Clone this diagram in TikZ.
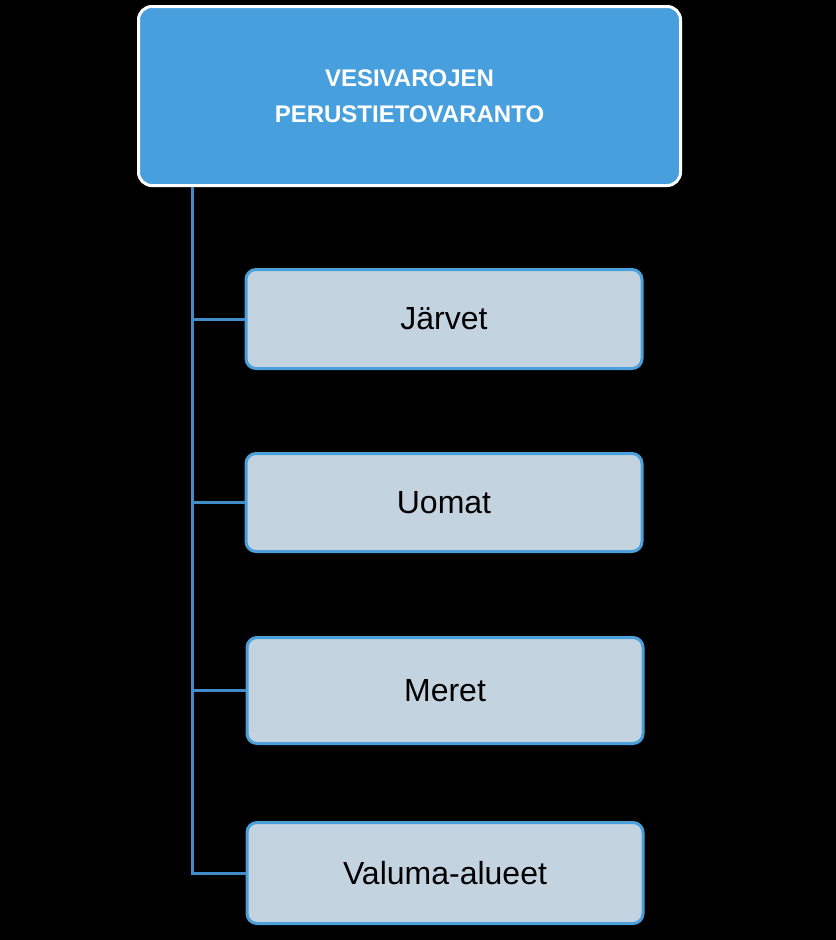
\documentclass[tikz,border=0pt]{standalone}
\usepackage{fontspec}
\setmainfont{Liberation Sans}
\usepackage{tikz}
\usetikzlibrary{positioning,calc}
\definecolor{rootCol}{HTML}{47A0DD}
\definecolor{kidCol}{HTML}{C3D4E0}
\definecolor{kidEdge}{HTML}{4B9FDA}
\definecolor{linkCol}{HTML}{3F8CC8}
\tikzset{
  rootbox/.style={draw=white, fill=rootCol, line width=2.25pt, rounded corners=10pt,
                  minimum width=406.5pt, minimum height=134.25pt, text=white, align=center,
                  font=\fontsize{18}{27}\selectfont\bfseries},
  kidbox/.style={draw=kidEdge, fill=kidCol, line width=2.25pt, rounded corners=7.5pt,
                 minimum width=297pt, minimum height=#1, text=black,
                 font=\fontsize{24}{29}\selectfont},
  link/.style={draw=linkCol, line width=2.25pt},
}
\begin{document}
\begin{tikzpicture}[x=0.75pt,y=-0.75pt]
  \fill[black] (0,0) rectangle (836,940);
  \useasboundingbox (0,0) rectangle (836,940);
  \node[rootbox] (root) at (409.5,96) {VESIVAROJEN\\PERUSTIETOVARANTO};

  \node[kidbox=74.25pt] (jarvet) at (444,319) {Järvet};
  \node[kidbox=73.5pt]  (uomat)  at (444,502.5) {Uomat};
  \node[kidbox=79.5pt]  (meret)  at (445,690.5) {Meret};
  \node[kidbox=75.75pt] (valuma) at (445,873) {Valuma-alueet};

  % branch lines from the root
  \coordinate (trunk) at ([xshift=41.25pt]root.south west);
  \foreach \k in {jarvet,uomat,meret,valuma}{\draw[link] (trunk) |- (\k.west);}
\end{tikzpicture}
\end{document}
